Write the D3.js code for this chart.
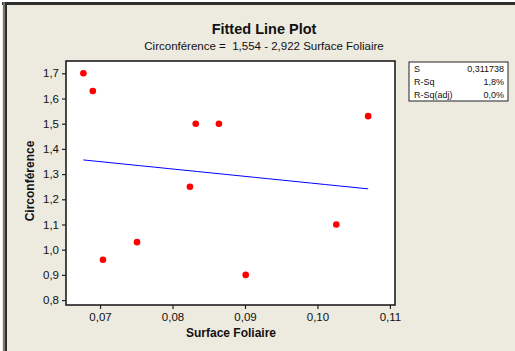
<!DOCTYPE html>
<html>
<head>
<meta charset="utf-8">
<script src="https://cdn.jsdelivr.net/npm/d3@7"></script>
<style>
  html, body { margin: 0; padding: 0; background: #EDEAE0; }
  svg { display: block; }
  text { font-family: "Liberation Sans", Arial, sans-serif; fill: #111; white-space: pre; }
</style>
</head>
<body>
<svg id="chart" width="515" height="351"></svg>
<script>
// Observations: leaf surface (x) and circumference (y)
const surfaceFoliaire = [0.0677, 0.0690, 0.0704, 0.0751, 0.0824, 0.0832, 0.0864, 0.0901, 0.1026, 0.1070];
const circonference   = [1.70,   1.63,   0.96,   1.03,   1.25,   1.50,   1.50,   0.90,   1.10,   1.53];

// Regression coefficients
const intercept = 1.554;
const slope = -2.922;

// Summary statistics
const statLabels = ["S", "R-Sq", "R-Sq(adj)"];
const statValues = ["0,311738", "1,8%", "0,0%"];

// Axis ticks
const xTicks = [0.07, 0.08, 0.09, 0.10, 0.11];
const yTicks = [0.8, 0.9, 1.0, 1.1, 1.2, 1.3, 1.4, 1.5, 1.6, 1.7];

const svg = d3.select("#chart");
const W = 515, H = 351;
const plot = { left: 66, top: 61, right: 395, bottom: 305 };

const fmtComma = d => d.toFixed(2).replace(".", ",");
const fmtY = d => d.toFixed(1).replace(".", ",");

// Window frame
svg.append("rect").attr("x", 0).attr("y", 0).attr("width", W).attr("height", H).attr("fill", "#EDEAE0");
svg.append("rect").attr("x", 0).attr("y", 0).attr("width", W).attr("height", 2).attr("fill", "#FFFFFF");
svg.append("rect").attr("x", 0).attr("y", 0).attr("width", 2).attr("height", H).attr("fill", "#FFFFFF");
svg.append("rect").attr("x", 2).attr("y", 2).attr("width", W - 2).attr("height", 3).attr("fill", "#2E2E2E");
svg.append("rect").attr("x", 3).attr("y", 2).attr("width", 2).attr("height", H - 2).attr("fill", "#777");
svg.append("rect").attr("x", 5).attr("y", 2).attr("width", 2).attr("height", H - 2).attr("fill", "#2E2E2E");

const x = d3.scaleLinear().domain([0.0653, 0.1107]).range([plot.left, plot.right]);
const y = d3.scaleLinear().domain([0.7805, 1.7488]).range([plot.bottom, plot.top]);

// Plot area
svg.append("rect")
  .attr("x", plot.left).attr("y", plot.top)
  .attr("width", plot.right - plot.left).attr("height", plot.bottom - plot.top)
  .attr("fill", "#FFFFFF").attr("stroke", "#111").attr("stroke-width", 1.5);

// Axes
const xAxis = svg.append("g")
  .attr("transform", `translate(0,${plot.bottom})`)
  .call(d3.axisBottom(x).tickValues(xTicks).tickFormat(fmtComma).tickSizeOuter(0).tickSize(4).tickPadding(4));
const yAxis = svg.append("g")
  .attr("transform", `translate(${plot.left},0)`)
  .call(d3.axisLeft(y).tickValues(yTicks).tickFormat(fmtY).tickSizeOuter(0).tickSize(4).tickPadding(3));
[xAxis, yAxis].forEach(g => {
  g.select(".domain").remove();
  g.selectAll(".tick line").attr("stroke", "#222").attr("stroke-width", 1.2);
  g.selectAll(".tick text").attr("font-size", 11.5).attr("font-family", "Liberation Sans, Arial, sans-serif").attr("fill", "#111");
});

// Fitted line across the observed range
const xMin = d3.min(surfaceFoliaire), xMax = d3.max(surfaceFoliaire);
const fitPts = d3.range(0, 21).map(i => {
  const xv = xMin + (xMax - xMin) * i / 20;
  return [xv, intercept + slope * xv];
});
svg.append("path")
  .datum(fitPts)
  .attr("fill", "none").attr("stroke", "#0000FF").attr("stroke-width", 1)
  .attr("d", d3.line().x(d => x(d[0])).y(d => y(d[1])));

// Data points
svg.append("g").selectAll("circle")
  .data(surfaceFoliaire.map((v, i) => [v, circonference[i]]))
  .join("circle")
  .attr("cx", d => x(d[0])).attr("cy", d => y(d[1])).attr("r", 3.3)
  .attr("fill", "#FF0000");

// Titles
svg.append("text").attr("x", 264).attr("y", 34).attr("text-anchor", "middle")
  .attr("font-size", 14.5).attr("font-weight", "bold").text("Fitted Line Plot");
svg.append("text").attr("x", 264).attr("y", 50).attr("text-anchor", "middle")
  .attr("font-size", 11.5).text("Circonférence =  1,554 - 2,922 Surface Foliaire");

// Axis titles
svg.append("text").attr("x", 231).attr("y", 337).attr("text-anchor", "middle")
  .attr("font-size", 12).attr("font-weight", "bold").text("Surface Foliaire");
svg.append("text").attr("transform", "translate(34,181) rotate(-90)").attr("text-anchor", "middle")
  .attr("font-size", 12).attr("font-weight", "bold").text("Circonférence");

// Statistics box
const box = { x: 409, y: 62, w: 99, h: 39 };
svg.append("rect").attr("x", box.x).attr("y", box.y).attr("width", box.w).attr("height", box.h)
  .attr("fill", "#FFFFFF").attr("stroke", "#222").attr("stroke-width", 1);
const rows = svg.append("g").selectAll("g").data(statLabels).join("g");
rows.append("text").attr("x", box.x + 5).attr("y", (d, i) => box.y + 10 + i * 13)
  .attr("font-size", 9).text(d => d);
rows.append("text").attr("x", box.x + box.w - 4).attr("y", (d, i) => box.y + 10 + i * 13)
  .attr("text-anchor", "end").attr("font-size", 9).text((d, i) => statValues[i]);
</script>
</body>
</html>
